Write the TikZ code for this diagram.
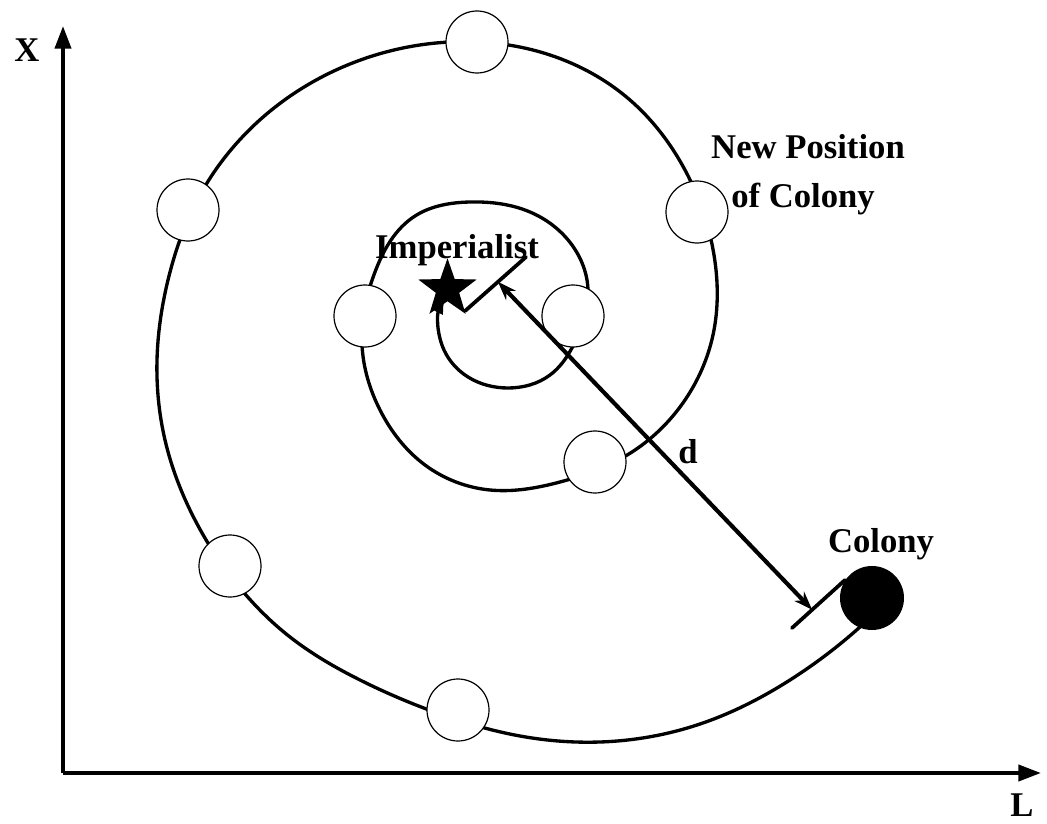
\documentclass[tikz,border=0pt]{standalone}
\usepackage{fontspec}
\setmainfont{Liberation Serif}
\usetikzlibrary{shapes.geometric,arrows.meta,calc,hobby}
\tikzset{
  lbl/.style={font=\fontsize{26}{31}\selectfont\bfseries, inner sep=0pt},
  spot/.style={circle, draw, fill=white, line width=0.9pt, minimum size=46.5pt, inner sep=0pt},
  spiral/.style={line width=2.5pt, line join=round},
  axis/.style={line width=3pt, -{Triangle[length=17pt, width=12pt]}},
  marker/.style={line width=2.8pt, line cap=round}
}
\begin{document}
\begin{tikzpicture}[x=0.75pt, y=-0.75pt]
\useasboundingbox (0,0) rectangle (1047,824);

% axes
\coordinate (O) at (63,773);
\coordinate (Xend) at (63,26);
\coordinate (Lend) at (1041,773);
\draw[axis] (O) -- (Xend);
\draw[axis] (O) -- (Lend);
\node[lbl, anchor=base] (xl) at (27,62) {X};
\node[lbl, anchor=base] (ll) at (1022,816) {L};

% spiral movement path from the colony towards the imperialist
\coordinate (s0) at (860,627);
\coordinate (s1) at (445,298);
\draw[spiral, use Hobby shortcut, -{Latex[length=12pt, width=9pt]}]
  (s0) .. (790,680) .. (700,724) .. (600,742) .. (520,736) .. (440,714)
  .. (360,680) .. (290,637) .. (240,588) .. (195,520) .. (165,440) .. (157,360)
  .. (168,280) .. (200,195) .. (262,118) .. (350,64) .. (450,42)
  .. (550,55) .. (630,100) .. (685,170) .. (714,255) .. (713,335)
  .. (685,400) .. (632,452) .. (560,482) .. (490,490) .. (425,465)
  .. (380,410) .. (362,345) .. (375,272) .. (415,216) .. (470,202)
  .. (530,212) .. (572,245) .. (588,290) .. (578,335) .. (550,375)
  .. (508,388) .. (468,377) .. (444,350) .. (s1);

% positions of the colony along the path
\node[spot] (p1) at (477,42) {};
\node[spot] (p2) at (188,210) {};
\node[spot] (p3) at (697,212) {};
\node[spot] (p4) at (365,316) {};
\node[spot] (p5) at (573,316) {};
\node[spot] (p6) at (595,462) {};
\node[spot] (p7) at (230,566) {};
\node[spot] (p8) at (458,710) {};

% imperialist and colony
\node[star, star points=5, star point ratio=2.5, fill=black, minimum size=46pt, inner sep=0pt] (imp) at (447.5,289) {};
\node[circle, fill=black, minimum size=48pt, inner sep=0pt] (col) at (872,598) {};

% distance markers and the distance d
\coordinate (m1a) at (465,311);
\coordinate (m1b) at (526,257);
\coordinate (m2a) at (792,628);
\coordinate (m2b) at (845,580);
\draw[marker] (m1a) -- (m1b);
\draw[marker] (m2a) -- (m2b);
\coordinate (d1) at ($(m1a)!0.54!(m1b)$);
\coordinate (d2) at ($(m2a)!0.38!(m2b)$);
\draw[line width=3.1pt, {Stealth[length=14pt, width=10pt]}-{Stealth[length=14pt, width=10pt]}] (d1) -- (d2);

% labels
\node[lbl, anchor=base] (il) at (457,258) {Imperialist};
\node[lbl, anchor=base] (dl) at (688,463) {d};
\node[lbl, anchor=base] (cl) at (881,552) {Colony};
\node[lbl, anchor=base] (np1) at (808,158) {New Position};
\node[lbl, anchor=base] (np2) at (803,207) {of Colony};
\end{tikzpicture}
\end{document}
